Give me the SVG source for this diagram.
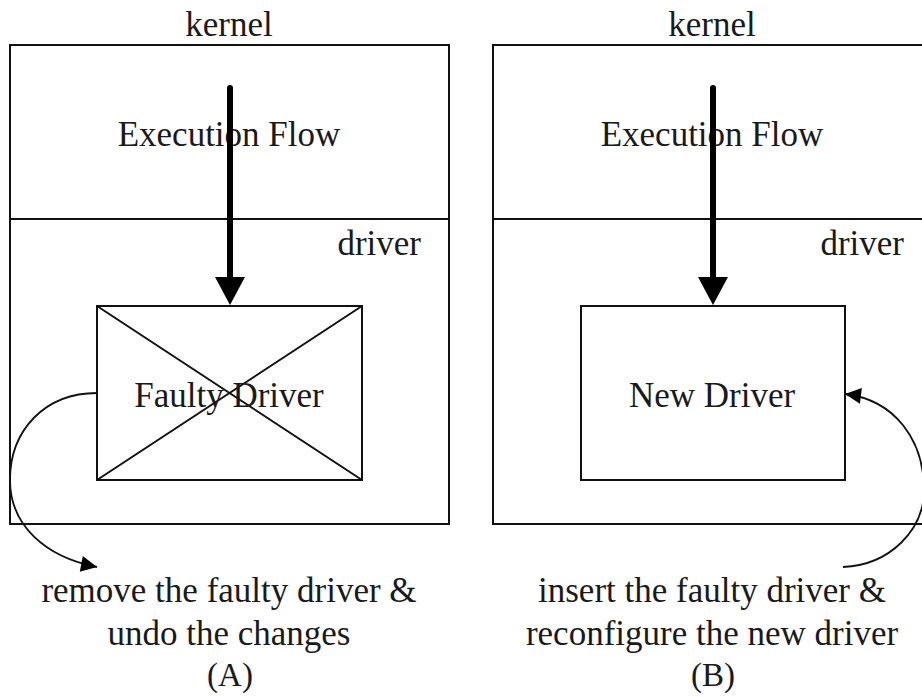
<svg xmlns="http://www.w3.org/2000/svg" width="922" height="697" viewBox="0 0 922 697">
<style>
.ln{fill:none;stroke:#111;stroke-width:2}
.cv{fill:none;stroke:#111;stroke-width:1.8}
.shaft{stroke:#000;stroke-width:6;stroke-linecap:round}
.t{font-family:'Liberation Serif','DejaVu Serif',serif;font-size:35px;fill:#1a1a1a;text-anchor:middle}
.te{text-anchor:end}
.ab{font-size:33px}
</style>
<defs>
<marker id="ah" viewBox="0 0 10 10" refX="10" refY="5" markerWidth="22" markerHeight="16" markerUnits="userSpaceOnUse" orient="auto">
<path d="M0,0 L10,5 L0,10 Z" fill="#000"/>
</marker>
</defs>
<rect width="922" height="697" fill="#fff"/>
<g id="panelA">
<rect class="ln" x="10" y="45" width="439" height="479"/>
<line class="ln" x1="10" y1="219" x2="449" y2="219"/>
<text class="t" x="229" y="36">kernel</text>
<text class="t" x="229" y="146">Execution Flow</text>
<text class="t te" x="421" y="255">driver</text>
</g>
<g id="faulty">
<rect class="ln" x="97" y="306" width="265" height="174"/>
<line class="ln" x1="97" y1="306" x2="362" y2="480"/>
<line class="ln" x1="362" y1="306" x2="97" y2="480"/>
<text class="t" x="229" y="407">Faulty Driver</text>
</g>
<g id="labelA">
<text class="t" x="229" y="602">remove the faulty driver &amp;</text>
<text class="t" x="229" y="645">undo the changes</text>
<text class="t ab" x="230" y="686">(A)</text>
</g>
<g id="panelB">
<rect class="ln" x="493" y="45" width="439" height="479"/>
<line class="ln" x1="493" y1="219" x2="932" y2="219"/>
<text class="t" x="712" y="36">kernel</text>
<text class="t" x="712" y="146">Execution Flow</text>
<text class="t te" x="904" y="255">driver</text>
</g>
<g id="newdriver">
<rect class="ln" x="581" y="306" width="264" height="174"/>
<text class="t" x="712" y="407">New Driver</text>
</g>
<g id="labelB">
<text class="t" x="712" y="602">insert the faulty driver &amp;</text>
<text class="t" x="712" y="645">reconfigure the new driver</text>
<text class="t ab" x="713" y="686">(B)</text>
</g>
<g id="connectors">
<line class="shaft" x1="230" y1="88" x2="230" y2="280"/>
<path d="M215,277 L245,277 L230,305 Z" fill="#000"/>
<line class="shaft" x1="713" y1="88" x2="713" y2="280"/>
<path d="M698,277 L728,277 L713,305 Z" fill="#000"/>
<path class="cv" d="M97,393 C45,393 10,430 10,480 C10,525 45,557 97,567" marker-end="url(#ah)"/>
<path class="cv" d="M843,567 C890,565 924,530 924,490 C924,440 895,400 845,394" marker-end="url(#ah)"/>
</g>
</svg>
